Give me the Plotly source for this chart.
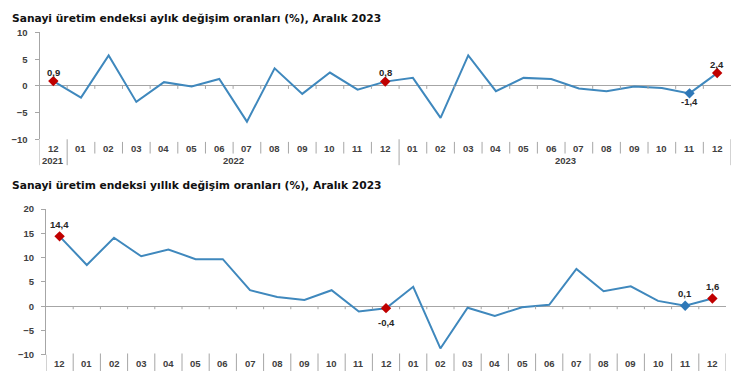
import plotly.graph_objects as go

# ---------------- data ----------------
months = ["12", "01", "02", "03", "04", "05", "06", "07", "08", "09", "10", "11",
          "12", "01", "02", "03", "04", "05", "06", "07", "08", "09", "10", "11", "12"]
year_labels = ["2021", "2022", "2023"]
monthly_change = [0.9, -2.2, 5.7, -3.0, 0.7, -0.1, 1.3, -6.7, 3.3, -1.5, 2.5, -0.7,
                  0.8, 1.5, -6.0, 5.7, -1.0, 1.5, 1.3, -0.5, -1.0, -0.1, -0.4, -1.4, 2.4]
annual_change = [14.4, 8.5, 14.1, 10.3, 11.7, 9.7, 9.7, 3.3, 1.9, 1.3, 3.3, -1.1,
                 -0.4, 4.0, -8.7, -0.3, -2.0, -0.2, 0.3, 7.7, 3.1, 4.1, 1.1, 0.1, 1.6]
title_top = "Sanayi üretim endeksi aylık değişim oranları (%), Aralık 2023"
title_bottom = "Sanayi üretim endeksi yıllık değişim oranları (%), Aralık 2023"
red_idx = [0, 12, 24]
blue_idx = [23]
top_label_below = [23]
bottom_label_below = [12]
top_yticks = [-10, -5, 0, 5, 10]
bottom_yticks = [-10, -5, 0, 5, 10, 15, 20]

# ---------------- style ----------------
W, H = 750, 375
LINE = "#3f88bd"
RED = "#c00000"
BLUE = "#2e78b8"
AX = "#a6a6a6"
TXT = "#404040"
FONT = "Liberation Sans"
TFONT = "DejaVu Sans"


def py(p):
    return 1 - p / H


def px(p):
    return p / W


n = len(months)
xs = list(range(n))

fig = go.Figure()

for data, xa, ya in [(monthly_change, "x", "y"), (annual_change, "x2", "y2")]:
    fig.add_trace(go.Scatter(x=xs, y=data, mode="lines", xaxis=xa, yaxis=ya,
                             line=dict(color=LINE, width=2), hoverinfo="skip"))
    fig.add_trace(go.Scatter(x=[xs[i] for i in red_idx], y=[data[i] for i in red_idx],
                             mode="markers", xaxis=xa, yaxis=ya, hoverinfo="skip",
                             marker=dict(symbol="diamond", size=8, color=RED)))
    fig.add_trace(go.Scatter(x=[xs[i] for i in blue_idx], y=[data[i] for i in blue_idx],
                             mode="markers", xaxis=xa, yaxis=ya, hoverinfo="skip",
                             marker=dict(symbol="diamond", size=8, color=BLUE)))

ann = []
shapes = []

# titles
ann.append(dict(xref="paper", yref="paper", x=px(10), y=py(12.5), xanchor="left", yanchor="middle",
                text="<b>" + title_top + "</b>", showarrow=False,
                font=dict(family=TFONT, size=10.7, color="#111111")))
ann.append(dict(xref="paper", yref="paper", x=px(10), y=py(185), xanchor="left", yanchor="middle",
                text="<b>" + title_bottom + "</b>", showarrow=False,
                font=dict(family=TFONT, size=10.7, color="#111111")))

# data labels
def fmt(v):
    return ("%.1f" % v).replace(".", ",")

for i in red_idx + blue_idx:
    below = i in top_label_below
    ann.append(dict(xref="x", yref="y", x=xs[i], y=monthly_change[i], text="<b>" + fmt(monthly_change[i]) + "</b>",
                    showarrow=False, yshift=-8 if below else 9,
                    font=dict(family=FONT, size=9.5, color="#262626")))
    below = i in bottom_label_below
    ann.append(dict(xref="x2", yref="y2", x=xs[i], y=annual_change[i], text="<b>" + fmt(annual_change[i]) + "</b>",
                    showarrow=False, yshift=-14 if below else 12,
                    font=dict(family=FONT, size=9.5, color="#262626")))

# category labels
for i, m in enumerate(months):
    ann.append(dict(xref="x", yref="paper", x=xs[i], y=py(146.5), text="<b>" + m + "</b>",
                    showarrow=False, font=dict(family=FONT, size=9.5, color=TXT)))
    ann.append(dict(xref="x2", yref="paper", x=xs[i], y=py(368.5), text="<b>" + m + "</b>",
                    showarrow=False, yanchor="middle", font=dict(family=FONT, size=9.5, color=TXT)))

# year labels (top panel)
year_pos = [0, (1 + 12) / 2, (13 + 24) / 2]
for yp, yl in zip(year_pos, year_labels):
    ann.append(dict(xref="x", yref="paper", x=yp, y=py(159.5), text="<b>" + yl + "</b>",
                    showarrow=False, font=dict(family=FONT, size=9.5, color=TXT)))

# separators
long_b = [0.5, 12.5, n - 0.5]
for k in range(n):
    b = k + 0.5
    if b in long_b:
        shapes.append(dict(type="line", xref="x", yref="paper", x0=b, x1=b, y0=py(137.3), y1=py(164),
                           line=dict(color=AX, width=1)))
    else:
        shapes.append(dict(type="line", xref="x", yref="paper", x0=b, x1=b, y0=py(140), y1=py(152),
                           line=dict(color=AX, width=1)))
    shapes.append(dict(type="line", xref="x2", yref="paper", x0=b, x1=b, y0=py(358), y1=py(376),
                       line=dict(color=AX, width=1)))
# y axis extensions
shapes.append(dict(type="line", xref="x", yref="paper", x0=-0.5, x1=-0.5, y0=py(137.3), y1=py(164),
                   line=dict(color=AX, width=1)))
shapes.append(dict(type="line", xref="x2", yref="paper", x0=-0.5, x1=-0.5, y0=py(359.3), y1=py(376),
                   line=dict(color=AX, width=1)))
# small ticks on zero lines
for k in range(n - 1):
    b = k + 0.5
    for xr, yr in [("x", "y"), ("x2", "y2")]:
        shapes.append(dict(type="line", xref=xr, yref=yr, ysizemode="pixel", yanchor=0,
                           x0=b, x1=b, y0=0, y1=-3, line=dict(color=AX, width=1)))

yax_common = dict(showline=True, linecolor=AX, linewidth=1, ticks="outside", ticklen=4, tickcolor=AX,
                  showgrid=False, zeroline=True, zerolinecolor=AX, zerolinewidth=1,
                  tickfont=dict(family=FONT, size=9.5, color=TXT, weight="bold"),
                  ticklabelstandoff=5, fixedrange=True)
xax_common = dict(range=[-0.5, n - 0.5], showgrid=False, zeroline=False, showticklabels=False,
                  showline=False, ticks="", fixedrange=True)

fig.update_layout(
    width=W, height=H, margin=dict(l=0, r=0, t=0, b=0),
    paper_bgcolor="white", plot_bgcolor="white", showlegend=False, hovermode=False,
    xaxis=dict(domain=[px(39.5), px(731)], anchor="y", **xax_common),
    yaxis=dict(domain=[py(137.3), py(27.3)], anchor="x", range=[-10, 10], tickvals=top_yticks, **yax_common),
    xaxis2=dict(domain=[px(46), px(726)], anchor="y2", **xax_common),
    yaxis2=dict(domain=[py(359.3), py(209.3)], anchor="x2", range=[-10, 20], tickvals=bottom_yticks, **yax_common),
    annotations=ann, shapes=shapes,
)

fig.write_html("out.html", config={"displayModeBar": False},
               post_script="document.body.style.margin='0';document.body.style.overflow='hidden';")
